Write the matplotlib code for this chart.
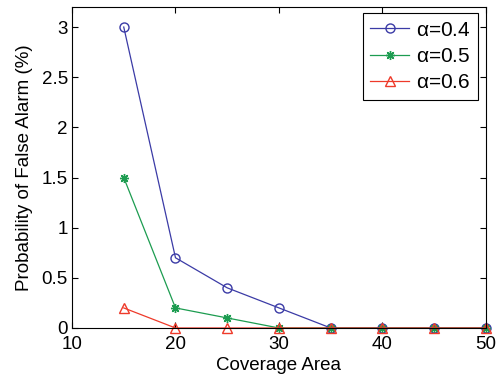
import matplotlib.pyplot as plt

coverage = [15, 20, 25, 30, 35, 40, 45, 50]
pfa_04 = [3.0, 0.7, 0.4, 0.2, 0, 0, 0, 0]
pfa_05 = [1.5, 0.2, 0.1, 0, 0, 0, 0, 0]
pfa_06 = [0.2, 0, 0, 0, 0, 0, 0, 0]

plt.rcParams.update({"font.family": "Liberation Sans", "font.size": 13.5})

fig = plt.figure(figsize=(5.02, 3.79), dpi=100)
ax = fig.add_axes([0.1434, 0.1346, 0.8247, 0.847])

# MATLAB-style asterisk: 8 spokes
asterisk = (8, 2, 0)

ax.plot(coverage, pfa_04, color="#3b3ba6", marker="o", mfc="none", ms=6.5, lw=0.9,
        clip_on=False, label=r"$\mathregular{\alpha}$=0.4")
ax.plot(coverage, pfa_05, color="#1c9c50", marker=asterisk, ms=6.5, mew=1.0, lw=0.9,
        clip_on=False, label=r"$\mathregular{\alpha}$=0.5")
ax.plot(coverage, pfa_06, color="#ee3a2a", marker="^", mfc="none", ms=6.5, lw=0.9,
        clip_on=False, label=r"$\mathregular{\alpha}$=0.6")

ax.set_xlim(10, 50)
ax.set_ylim(0, 3.2)
ax.set_xticks(range(10, 51, 10))
ax.set_yticks([0, 0.5, 1, 1.5, 2, 2.5, 3])
ax.set_yticklabels(["0", "0.5", "1", "1.5", "2", "2.5", "3"])
ax.tick_params(direction="in", top=True, right=True, length=4, labelsize=13.5)
ax.tick_params(axis="x", pad=6)
ax.tick_params(axis="y", pad=3)
ax.set_xlabel("Coverage Area", fontsize=13.5, labelpad=3)
ax.set_ylabel("Probability of False Alarm (%)", fontsize=13.5, labelpad=6)

leg = ax.legend(loc="upper right", bbox_to_anchor=(0.98, 0.98), fontsize=15,
                fancybox=False, framealpha=1, edgecolor="black",
                handlelength=1.9, handletextpad=0.3, borderpad=0.35,
                labelspacing=0.35, borderaxespad=0.0)
leg.get_frame().set_linewidth(0.8)

fig.savefig("out.png", dpi=100)
